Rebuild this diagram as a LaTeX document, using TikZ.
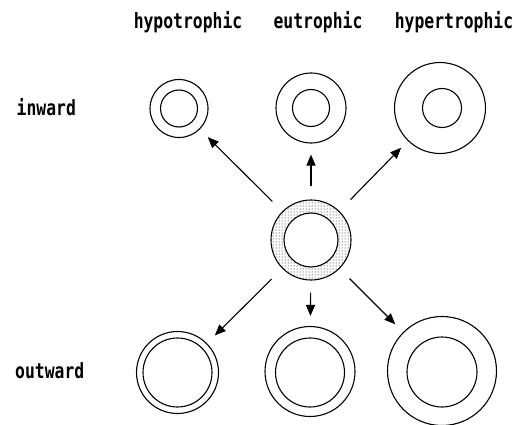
\documentclass[tikz,border=0pt]{standalone}
\usepackage{fontspec}
\newfontfamily\lblfont[FakeStretch=0.78]{DejaVu Sans Mono Bold}
\usetikzlibrary{arrows.meta,patterns}
\tikzset{
  ring/.style={circle,draw,line width=1.1pt,inner sep=0pt,minimum size=#1},
  arr/.style={line width=1.1pt,-{Triangle[length=11pt,width=9pt]},shorten <=14pt,shorten >=11pt},
  lbl/.style={font=\lblfont\fontsize{21}{23}\selectfont,inner sep=0pt}
}
\begin{document}
\begin{tikzpicture}[x=1pt,y=-1pt]
\useasboundingbox (0,0) rectangle (524,425);
% labels
\node[lbl,anchor=base] (lhypo) at (188,29) {hypotrophic};
\node[lbl,anchor=base] (leu) at (318,29) {eutrophic};
\node[lbl,anchor=base] (lhyper) at (454,29) {hypertrophic};
\node[lbl,anchor=base west] (lin) at (16.5,116) {inward};
\node[lbl,anchor=base west] (lout) at (15,378) {outward};
% center stippled ring
\fill[pattern=dots,pattern color=black,even odd rule] (311,240) circle (40) (311,240) circle (27);
\node[ring=80pt] (c) at (311,240) {};
\node[ring=54pt] (ci) at (311,240) {};
% top row (inward)
\node[ring=58pt] (ti1) at (179,108.5) {};
\node[ring=37pt] (ti1i) at (179,108.5) {};
\node[ring=70pt] (ti2) at (311,108) {};
\node[ring=37pt] (ti2i) at (311,108) {};
\node[ring=91pt] (ti3) at (440,108) {};
\node[ring=39pt] (ti3i) at (442,108) {};
% bottom row (outward)
\node[ring=82pt] (bo1) at (177.5,372.5) {};
\node[ring=69pt] (bo1i) at (177.5,372.5) {};
\node[ring=90pt] (bo2) at (310,371.5) {};
\node[ring=69pt] (bo2i) at (310,372.5) {};
\node[ring=109pt] (bo3) at (442,371) {};
\node[ring=70pt] (bo3i) at (442,372) {};
% arrows
\draw[arr] (c) -- (ti1);
\draw[arr,shorten <=13pt] (c) -- (ti2);
\draw[arr,shorten <=16pt,shorten >=9.5pt] (c) -- (ti3);
\draw[arr,shorten <=15pt] (c) -- (bo1);
\draw[arr,shorten <=12pt,shorten >=10pt] (c) -- (bo2);
\draw[arr] (c) -- (bo3);
\end{tikzpicture}
\end{document}
